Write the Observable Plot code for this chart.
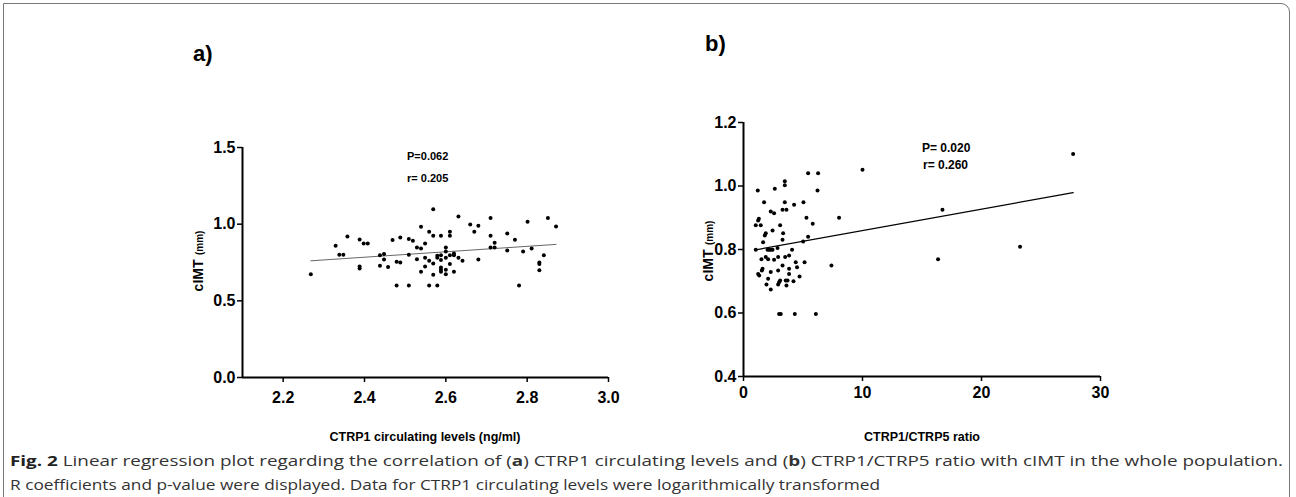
<!DOCTYPE html>
<html>
<head>
<meta charset="utf-8">
<script src="https://cdn.jsdelivr.net/npm/d3@7"></script>
<script src="https://cdn.jsdelivr.net/npm/@observablehq/plot@0.6"></script>
<style>
  html, body { margin: 0; padding: 0; background: #fff; }
  #root { position: relative; width: 1296px; height: 497px; overflow: hidden; background: #fff;
          font-family: "Liberation Sans", Arial, sans-serif; }
  .frame { position: absolute; left: 3px; top: 3px; width: 1287px; height: 600px;
           border: 1.5px solid #777; border-top-right-radius: 9px; box-sizing: border-box; }
  .panel { position: absolute; top: 0; }
  .panel svg text { font-size: 16px !important; font-weight: bold !important; font-family: "Liberation Sans", Arial, sans-serif !important; fill: #000; }
  .lbl { position: absolute; font-weight: bold; color: #000; white-space: nowrap; }
  .ylab { position: absolute; transform: translate(-50%, -50%) rotate(-90deg); font-weight: bold; white-space: nowrap; color:#000; }
  .stat { position: absolute; font-weight: bold; font-size: 11px; color: #000; white-space: nowrap; }
</style>
</head>
<body>
<div id="root">
  <div class="frame"></div>
  <div id="pa" class="panel" style="left:0px"></div>
  <div id="pb" class="panel" style="left:650px"></div>

  <div class="lbl" style="left:193px; top:41px; font-size:22px;">a)</div>
  <div class="lbl" style="left:705px; top:31px; font-size:22px;">b)</div>

  <div class="stat" style="left:407px; top:150px;">P=0.062</div>
  <div class="stat" style="left:407px; top:172px;">r= 0.205</div>
  <div class="stat" style="left:922px; top:141px; font-size:12px;">P= 0.020</div>
  <div class="stat" style="left:923px; top:158px; font-size:12px;">r= 0.260</div>

  <div class="ylab" style="left:198px; top:261px;"><span style="font-size:14px">cIMT</span> <span style="font-size:10px">(mm)</span></div>
  <div class="ylab" style="left:708px; top:251px;"><span style="font-size:14px">cIMT</span> <span style="font-size:10px">(mm)</span></div>

  <div class="lbl" style="left:425px; top:437px; transform:translate(-50%,-50%); font-size:12.5px;">CTRP1 circulating levels (ng/ml)</div>
  <div class="lbl" style="left:922px; top:437px; transform:translate(-50%,-50%); font-size:12.5px;">CTRP1/CTRP5 ratio</div>

  <svg id="cap" width="1296" height="497" style="position:absolute; left:0; top:0; pointer-events:none;">
    <text x="10" y="466" textLength="1273" lengthAdjust="spacingAndGlyphs" font-family="'Open Sans', 'Noto Sans', sans-serif" font-size="15" fill="#333"><tspan font-weight="bold" fill="#222">Fig. 2</tspan>  Linear regression plot regarding the correlation of (<tspan font-weight="bold">a</tspan>) CTRP1 circulating levels and (<tspan font-weight="bold">b</tspan>) CTRP1/CTRP5 ratio with cIMT in the whole population.</text>
    <text x="10" y="490" textLength="870" lengthAdjust="spacingAndGlyphs" font-family="'Open Sans', 'Noto Sans', sans-serif" font-size="15" fill="#333">R coefficients and p-value were displayed. Data for CTRP1 circulating levels were logarithmically transformed</text>
  </svg>
</div>
<script>
// ---- Panel a: CTRP1 circulating levels (log) vs cIMT ----
const aX = [2.268,2.329,2.338,2.348,2.358,2.388,2.398,2.408,2.388,2.388,2.438,2.448,2.448,2.438,2.458,
  2.469,2.479,2.488,2.488,2.479,2.509,2.519,2.509,2.509,2.529,2.539,2.539,2.549,2.529,2.539,2.549,2.549,2.559,2.559,2.559,2.569,2.569,2.569,2.569,2.579,2.579,2.579,2.588,2.588,2.588,2.588,2.588,2.588,2.600,2.600,2.600,2.600,2.600,2.610,2.610,2.610,2.610,2.620,2.620,2.620,2.631,2.631,2.641,2.660,2.670,
  2.680,2.680,2.710,2.710,2.710,2.720,2.720,2.751,2.751,2.770,2.780,2.790,2.801,2.811,2.841,2.830,2.830,2.830,2.851,2.871];
const aY = [0.674,0.859,0.800,0.800,0.920,0.900,0.874,0.874,0.724,0.711,0.798,0.805,0.770,0.729,0.720,
  0.896,0.755,0.913,0.750,0.600,0.903,0.892,0.800,0.600,0.848,0.842,0.983,0.874,0.772,0.689,0.781,0.724,0.950,0.761,0.600,1.098,0.924,0.744,0.670,0.781,0.794,0.600,0.924,0.798,0.766,0.718,0.702,0.689,0.848,0.822,0.781,0.702,0.674,0.950,0.924,0.798,0.740,0.809,0.798,0.689,1.050,0.781,0.761,0.998,0.950,
  0.989,0.770,1.040,0.924,0.848,0.879,0.848,0.939,0.828,0.898,0.600,0.822,1.016,0.842,0.798,0.750,0.740,0.700,1.040,0.985];
const fitAX = [2.268, 2.871];
const fitAY = [0.761, 0.868];
const aXTicks = [2.2, 2.4, 2.6, 2.8, 3.0];
const aYTicks = [0.0, 0.5, 1.0, 1.5];

// ---- Panel b: CTRP1/CTRP5 ratio vs cIMT ----
const bX = [3.47,3.47,1.20,2.63,1.73,3.47,4.25,2.29,2.57,3.28,3.61,1.29,1.23,1.03,1.45,3.08,1.87,1.79,2.44,3.33,3.28,1.65,1.03,2.02,2.16,2.29,2.44,2.86,1.51,1.87,2.07,2.57,2.91,3.50,3.83,3.28,1.60,1.54,2.29,1.23,1.32,2.91,3.83,3.83,2.07,1.93,2.99,3.08,2.91,3.55,3.70,4.20,2.29,3.61,2.99,3.13,4.31,
  5.43,6.27,6.22,5.04,5.29,8.03,5.82,5.43,5.01,4.08,4.39,4.50,5.13,7.39,4.71,6.08,
  10.0,16.72,16.35,23.24,27.70];
const bY = [1.015,1.002,0.986,0.991,0.949,0.949,0.941,0.920,0.914,0.925,0.925,0.897,0.891,0.876,0.876,0.876,0.851,0.844,0.860,0.851,0.831,0.823,0.799,0.799,0.799,0.799,0.799,0.805,0.769,0.776,0.769,0.768,0.776,0.776,0.781,0.750,0.739,0.734,0.729,0.723,0.718,0.734,0.739,0.723,0.708,0.690,0.697,0.702,0.690,0.702,0.702,0.700,0.674,0.687,0.597,0.597,0.597,
  1.040,1.040,0.986,0.949,0.900,0.900,0.881,0.840,0.825,0.799,0.760,0.744,0.760,0.750,0.715,0.597,
  1.051,0.925,0.769,0.809,1.101];
const fitBX = [1.03, 27.70];
const fitBY = [0.799, 0.979];
const bXTicks = [0, 10, 20, 30];
const bYTicks = [0.4, 0.6, 0.8, 1.0, 1.2];

const zip = (xs, ys) => xs.map((x, i) => ({x, y: ys[i]}));
const fmt1 = d3.format(".1f");
const baseStyle = {fontFamily: "'Liberation Sans', Arial, sans-serif", fontSize: "16px", fontWeight: "bold", color: "#000", background: "transparent", overflow: "visible"};

function panel({width, height, mL, mR, mT, mB, xDom, yDom, xTicks, yTicks, xFmt, pts, fit, fitColor, fitWidth, xPad}) {
  return Plot.plot({
    width, height, marginLeft: mL, marginRight: mR, marginTop: mT, marginBottom: mB,
    style: baseStyle,
    x: {domain: xDom, label: null},
    y: {domain: yDom, label: null},
    marks: [
      Plot.line(fit, {x: "x", y: "y", stroke: fitColor, strokeWidth: fitWidth}),
      Plot.dot(pts, {x: "x", y: "y", r: 2, fill: "#000", stroke: "none"}),
      Plot.ruleY([yDom[0]], {stroke: "#000", strokeWidth: 2}),
      Plot.ruleX([xDom[0]], {stroke: "#000", strokeWidth: 2}),
      Plot.axisX({ticks: xTicks, tickFormat: xFmt, tickSize: 5, tickPadding: xPad, strokeWidth: 1.5, label: null}),
      Plot.axisY({ticks: yTicks, tickFormat: fmt1, tickSize: 5, tickPadding: 2, strokeWidth: 1.5, label: null})
    ]
  });
}

document.getElementById("pa").append(panel({
  width: 650, height: 450, mL: 242, mR: 42, mT: 147, mB: 73,
  xDom: [2.1, 3.0], yDom: [0, 1.5], xTicks: aXTicks, yTicks: aYTicks, xFmt: fmt1,
  pts: zip(aX, aY), fit: zip(fitAX, fitAY), fitColor: "#666", fitWidth: 1, xPad: 9
}));

document.getElementById("pb").append(panel({
  width: 646, height: 450, mL: 93, mR: 196, mT: 122, mB: 74,
  xDom: [0, 30], yDom: [0.4, 1.2], xTicks: bXTicks, yTicks: bYTicks, xFmt: d3.format("d"),
  pts: zip(bX, bY), fit: zip(fitBX, fitBY), fitColor: "#000", fitWidth: 1.3, xPad: 5
}));
</script>
</body>
</html>
